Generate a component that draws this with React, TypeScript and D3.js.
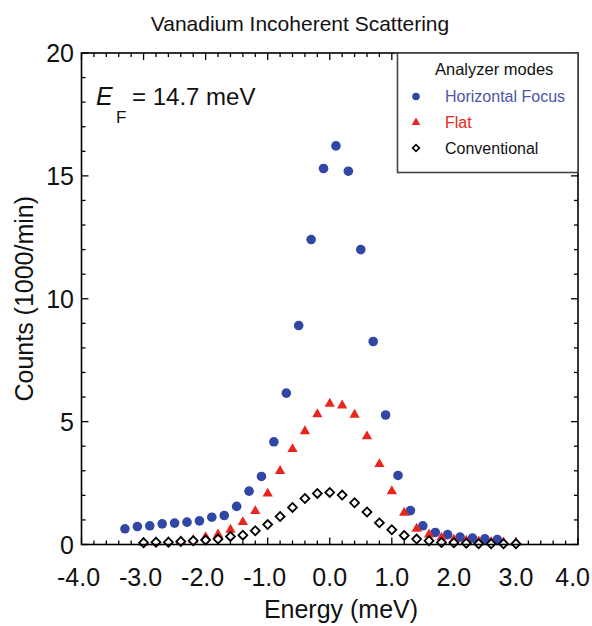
import React from "react";
import * as d3 from "d3";

const focusEnergy = [-3.3, -3.1, -2.9, -2.7, -2.5, -2.3, -2.1, -1.9, -1.7, -1.5, -1.3, -1.1, -0.9, -0.7, -0.5, -0.3, -0.1, 0.1, 0.3, 0.5, 0.7, 0.9, 1.1, 1.3, 1.5, 1.7, 1.9, 2.1, 2.3, 2.5, 2.7];
const focusCounts = [0.64, 0.73, 0.76, 0.84, 0.87, 0.91, 0.96, 1.11, 1.18, 1.55, 2.17, 2.77, 4.18, 6.16, 8.91, 12.41, 15.3, 16.22, 15.19, 12.0, 8.26, 5.27, 2.81, 1.38, 0.76, 0.49, 0.4, 0.3, 0.26, 0.23, 0.2];

const flatEnergy = [-3.0, -2.8, -2.6, -2.4, -2.2, -2.0, -1.8, -1.6, -1.4, -1.2, -1.0, -0.8, -0.6, -0.4, -0.2, 0.0, 0.2, 0.4, 0.6, 0.8, 1.0, 1.2, 1.4, 1.6, 1.8, 2.0, 2.2, 2.4, 2.6, 2.8, 3.0];
const flatCounts = [0.08, 0.09, 0.1, 0.13, 0.18, 0.3, 0.41, 0.6, 0.91, 1.36, 2.07, 2.99, 3.88, 4.61, 5.3, 5.73, 5.66, 5.28, 4.4, 3.27, 2.17, 1.29, 0.64, 0.41, 0.28, 0.2, 0.15, 0.12, 0.1, 0.08, 0.07];

const convEnergy = [-3.0, -2.8, -2.6, -2.4, -2.2, -2.0, -1.8, -1.6, -1.4, -1.2, -1.0, -0.8, -0.6, -0.4, -0.2, 0.0, 0.2, 0.4, 0.6, 0.8, 1.0, 1.2, 1.4, 1.6, 1.8, 2.0, 2.2, 2.4, 2.6, 2.8, 3.0];
const convCounts = [0.07, 0.09, 0.09, 0.12, 0.15, 0.18, 0.22, 0.33, 0.38, 0.56, 0.81, 1.14, 1.51, 1.87, 2.08, 2.12, 2.01, 1.7, 1.32, 0.88, 0.6, 0.37, 0.22, 0.15, 0.08, 0.07, 0.05, 0.03, 0.03, 0.03, 0.03];

const xTickLabels = ["-4.0", "-3.0", "-2.0", "-1.0", "0.0", "1.0", "2.0", "3.0", "4.0"];
const xMajorTicks = [-4, -3, -2, -1, 0, 1, 2, 3, 4];
const yMajorTicks = [0, 5, 10, 15, 20];
const legendLabels = ["Horizontal Focus", "Flat", "Conventional"];

const BLUE = "#3047a6";
const BLUE_TEXT = "#4a56a8";
const RED = "#e8261e";
const FONT = "'Liberation Sans', Arial, Helvetica, sans-serif";

export default function App() {
  const W = 592, H = 626;
  const left = 81.5, right = 578, top = 53, bottom = 544.5;
  const x = d3.scaleLinear().domain([-4, 4]).range([left, right]);
  const y = d3.scaleLinear().domain([0, 20]).range([bottom, top]);

  const xMinor = d3.range(-40, 41, 2).map((v) => v / 10);
  const yMinor = d3.range(0, 21, 1);

  const tri = d3.symbol().type(d3.symbolTriangle).size(46)()!;
  const dia = d3.symbol().type(d3.symbolSquare).size(40)()!;
  const triSmall = d3.symbol().type(d3.symbolTriangle).size(32)()!;
  const diaSmall = d3.symbol().type(d3.symbolSquare).size(22)()!;

  const lg = { x0: 397.5, y0: top, x1: right, y1: 172.5 };

  return (
    <svg width={W} height={H} style={{ position: "absolute", left: 0, top: 0, background: "#fff" }} fontFamily={FONT}>
      <rect x={0} y={0} width={W} height={H} fill="#fff" />
      <text x={300} y={31} textAnchor="middle" fontSize={21} fill="#111">Vanadium Incoherent Scattering</text>

      {/* ticks */}
      <g stroke="#000" strokeWidth={1.3}>
        {xMinor.map((v, i) => {
          const major = Math.abs(v - Math.round(v)) < 1e-6;
          const len = major ? 7 : 4;
          return (
            <g key={"xt" + i}>
              <line x1={x(v)} x2={x(v)} y1={bottom} y2={bottom - len} />
              <line x1={x(v)} x2={x(v)} y1={top} y2={top + len} />
            </g>
          );
        })}
        {yMinor.map((v, i) => {
          const major = v % 5 === 0;
          const len = major ? 7 : 4;
          return (
            <g key={"yt" + i}>
              <line x1={left} x2={left + len} y1={y(v)} y2={y(v)} />
              <line x1={right} x2={right - len} y1={y(v)} y2={y(v)} />
            </g>
          );
        })}
      </g>

      {/* tick labels */}
      {xMajorTicks.map((v, i) => {
        const last = i === xMajorTicks.length - 1;
        return (
          <text key={"xl" + i} x={last ? 590 : x(v) + (v < 0 ? -3 : 0)} y={586} textAnchor={last ? "end" : "middle"} fontSize={25} fill="#111">{xTickLabels[i]}</text>
        );
      })}
      {yMajorTicks.map((v) => (
        <text key={"yl" + v} x={74} y={y(v) + 9} textAnchor="end" fontSize={25} fill="#111">{v}</text>
      ))}

      <text x={341} y={618} textAnchor="middle" fontSize={25} fill="#111">Energy (meV)</text>
      <text transform={`translate(33,${(top + bottom) / 2}) rotate(-90)`} textAnchor="middle" fontSize={25} fill="#111">Counts (1000/min)</text>

      {/* annotation */}
      <text x={96} y={105} fontSize={25} fill="#111" fontStyle="italic">E</text>
      <text x={116} y={123} fontSize={17} fill="#111">F</text>
      <text x={132} y={105} fontSize={24} fill="#111">= 14.7 meV</text>

      {/* data */}
      <g>
        {focusEnergy.map((e, i) => (
          <circle key={"b" + i} cx={x(e)} cy={y(focusCounts[i])} r={4.8} fill={BLUE} />
        ))}
        {flatEnergy.map((e, i) => (
          <path key={"r" + i} d={tri} transform={`translate(${x(e)},${y(flatCounts[i])})`} fill={RED} />
        ))}
        {convEnergy.map((e, i) => (
          <path key={"d" + i} d={dia} transform={`translate(${x(e)},${y(convCounts[i])}) rotate(45)`} fill="#fff" stroke="#000" strokeWidth={1.8} />
        ))}
      </g>

      {/* frame */}
      <rect x={left} y={top} width={right - left} height={bottom - top} fill="none" stroke="#000" strokeWidth={1.6} />

      {/* legend */}
      <rect x={lg.x0} y={lg.y0} width={lg.x1 - lg.x0} height={lg.y1 - lg.y0} fill="#fff" stroke="#444" strokeWidth={1.6} />
      <text x={435} y={75} fontSize={16.5} fill="#111">Analyzer modes</text>
      <circle cx={416} cy={96.5} r={3.8} fill={BLUE} />
      <text x={445} y={102} fontSize={16} fill={BLUE_TEXT}>{legendLabels[0]}</text>
      <path d={triSmall} transform="translate(416,122.5)" fill={RED} />
      <text x={445} y={128} fontSize={16} fill={RED}>{legendLabels[1]}</text>
      <path d={diaSmall} transform="translate(416,148) rotate(45)" fill="#fff" stroke="#000" strokeWidth={1.6} />
      <text x={445} y={154} fontSize={16} fill="#111">{legendLabels[2]}</text>
    </svg>
  );
}
